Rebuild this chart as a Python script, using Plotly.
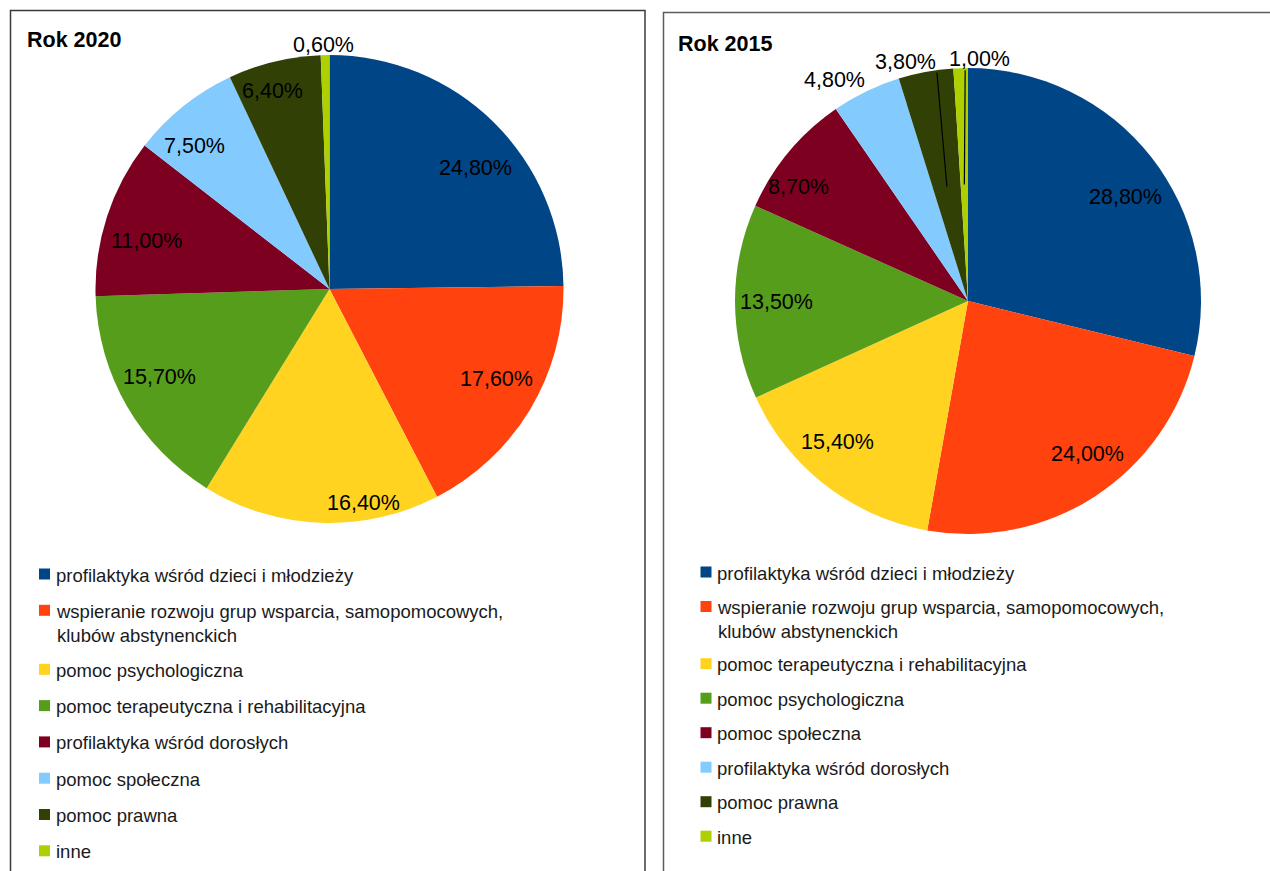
import math
import plotly.graph_objects as go

W, H = 1270, 871

# Shared slice palette (position based, as in both charts)
colors = ["#004586", "#ff420e", "#ffd320", "#579d1c",
          "#7e0021", "#83caff", "#314004", "#aecf00"]

labels_2020 = [
    "profilaktyka wśród dzieci i młodzieży",
    "wspieranie rozwoju grup wsparcia, samopomocowych,<br>klubów abstynenckich",
    "pomoc psychologiczna",
    "pomoc terapeutyczna i rehabilitacyjna",
    "profilaktyka wśród dorosłych",
    "pomoc społeczna",
    "pomoc prawna",
    "inne",
]
values_2020 = [24.8, 17.6, 16.4, 15.7, 11.0, 7.5, 6.4, 0.6]

labels_2015 = [
    "profilaktyka wśród dzieci i młodzieży",
    "wspieranie rozwoju grup wsparcia, samopomocowych,<br>klubów abstynenckich",
    "pomoc terapeutyczna i rehabilitacyjna",
    "pomoc psychologiczna",
    "pomoc społeczna",
    "profilaktyka wśród dorosłych",
    "pomoc prawna",
    "inne",
]
values_2015 = [28.8, 24.0, 15.4, 13.5, 8.7, 4.8, 3.8, 1.0]

# Value label placement: radius (fraction of R) and angular nudge (degrees)
label_r_2020 = [0.813, 0.809, 0.922, 0.816, 0.81, 0.844, 0.885, 1.047]
label_da_2020 = [5.5, -2.9, -11.3, 3.0, -3.0, -4.5, -2.3, -0.3]
label_r_2015 = [0.811, 0.829, 0.82, 0.824, 0.88, 1.111, 1.064, 1.046]
label_da_2015 = [4.4, -5.0, 5.1, 0.2, -5.7, -5.0, -4.2, 4.6]
# leader lines: slice index -> angular nudge of the outer end (degrees)
leaders_2015 = {6: 2.7, 7: 1.1}

FONT = "Liberation Sans, Arial, sans-serif"


def px_x(x):
    return x / W


def px_y(y):
    return 1 - y / H


def fmt(v):
    return f"{v:.2f}".replace(".", ",") + "%"


panels = [
    dict(title="Rok 2020", labels=labels_2020, values=values_2020,
         cx=329.5, cy=289, R=234, lab_r=label_r_2020, lab_da=label_da_2020,
         leaders={}, box=(10.5, 10.5, 645), box_color="#3a3a3a",
         title_xy=(25, 40), leg_x=39, leg_y=575, leg_step=36.3),
    dict(title="Rok 2015", labels=labels_2015, values=values_2015,
         cx=968, cy=301, R=233, lab_r=label_r_2015, lab_da=label_da_2015,
         leaders=leaders_2015, box=(663.5, 12.5, 1290), box_color="#5c5c5c",
         title_xy=(676, 44), leg_x=700.5, leg_y=573, leg_step=34.5),
]

fig = go.Figure()
annotations = []
shapes = []
LINE_H = 22.7
SQ = 11

for p in panels:
    cx, cy, R = p["cx"], p["cy"], p["R"]
    fig.add_trace(go.Pie(
        labels=[l.replace("<br>", " ") for l in p["labels"]],
        values=p["values"],
        sort=False,
        direction="clockwise",
        rotation=0,
        marker=dict(colors=colors, line=dict(width=0)),
        textinfo="none",
        hoverinfo="label+value",
        showlegend=False,
        domain=dict(x=[px_x(cx - R), px_x(cx + R)],
                    y=[px_y(cy + R), px_y(cy - R)]),
    ))

    # panel frame
    bx0, by0, bx1 = p["box"]
    shapes.append(dict(type="rect", xref="paper", yref="paper",
                       x0=px_x(bx0), x1=px_x(bx1), y0=px_y(900), y1=px_y(by0),
                       line=dict(color=p["box_color"], width=1.5),
                       fillcolor="rgba(0,0,0,0)", layer="below"))

    # title
    tx, ty = p["title_xy"]
    annotations.append(dict(text="<b>" + p["title"] + "</b>", xref="paper", yref="paper",
                            x=px_x(tx), y=px_y(ty), xanchor="left", yanchor="middle",
                            showarrow=False, font=dict(family=FONT, size=21.5, color="#000")))

    # value labels around the slice mid-angles
    total = sum(p["values"])
    cum = 0.0
    for i, v in enumerate(p["values"]):
        mid = (cum + v / 2) / total * 2 * math.pi
        cum += v
        ang = mid + math.radians(p["lab_da"][i])
        rr = p["lab_r"][i] * R
        lx = cx + rr * math.sin(ang)
        ly = cy - rr * math.cos(ang)
        annotations.append(dict(text=fmt(v), xref="paper", yref="paper",
                                x=px_x(lx), y=px_y(ly + 1), xanchor="center", yanchor="middle",
                                showarrow=False, font=dict(family=FONT, size=21.5, color="#000")))
        if i in p["leaders"]:
            top = mid + math.radians(p["leaders"][i])
            shapes.append(dict(type="line", xref="paper", yref="paper",
                               x0=px_x(cx + 0.5 * R * math.sin(mid)),
                               y0=px_y(cy - 0.5 * R * math.cos(mid)),
                               x1=px_x(cx + 0.99 * R * math.sin(top)),
                               y1=px_y(cy - 0.99 * R * math.cos(top)),
                               line=dict(color="#000", width=1.2)))

    # legend
    y = p["leg_y"]
    for i, lab in enumerate(p["labels"]):
        shapes.append(dict(type="rect", xref="paper", yref="paper",
                           x0=px_x(p["leg_x"]), x1=px_x(p["leg_x"] + SQ),
                           y0=px_y(y + SQ / 2 - 1), y1=px_y(y - SQ / 2 - 1),
                           line=dict(width=0), fillcolor=colors[i]))
        annotations.append(dict(text=lab, xref="paper", yref="paper",
                                x=px_x(p["leg_x"] + 15), y=px_y(y - 12.5),
                                xanchor="left", yanchor="top", align="left",
                                showarrow=False,
                                font=dict(family=FONT, size=18.5, color="#1a1a1a")))
        nlines = lab.count("<br>")
        y += p["leg_step"] + nlines * LINE_H

fig.update_layout(
    width=W, height=H,
    margin=dict(l=0, r=0, t=0, b=0),
    paper_bgcolor="#ffffff",
    plot_bgcolor="#ffffff",
    annotations=annotations,
    shapes=shapes,
    font=dict(family=FONT),
)

fig.write_html("out.html")
